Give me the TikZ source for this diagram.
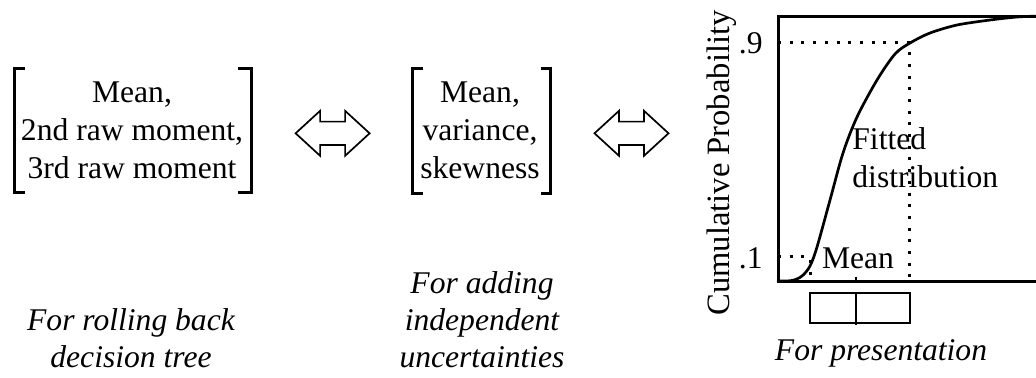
\documentclass[tikz,border=0pt]{standalone}
\usepackage{fontspec}
\setmainfont{Liberation Serif}
\tikzset{
  pics/dblarrow/.style={code={
    \draw[line width=0.85pt, line join=miter]
      (-37,0) -- (-12.5,-22.5) -- (-12.5,-11.7) -- (12.5,-11.7) -- (12.5,-22.5)
      -- (37,0) -- (12.5,22.5) -- (12.5,11.7) -- (-12.5,11.7) -- (-12.5,22.5) -- cycle;
  }}
}
\begin{document}
\begin{tikzpicture}[x=0.5pt,y=-0.5pt,
  lbl/.style={font=\fontsize{15.8}{19}\selectfont, inner sep=0pt},
  note/.style={font=\fontsize{15.8}{18.5}\selectfont\itshape, inner sep=0pt, align=center},
  bracket/.style={line width=1.5pt},
  frame/.style={line width=1.5pt},
  guide/.style={line width=1.5pt, dash pattern=on 1.5pt off 4.35pt},
  curve/.style={line width=1.35pt, line join=round, line cap=round},
  boxplot/.style={line width=1pt}
]
\path[use as bounding box] (0,0) rectangle (1036,377);
\clip (0,0) rectangle (1036,377);

% raw moments (node base sits on the last line)
\node[lbl, align=center, anchor=base] (raw) at (132,178)
  {Mean,\\2nd raw moment,\\3rd raw moment};
\draw[bracket] (25,68) -- (14,68) -- (14,192) -- (25,192);
\draw[bracket] (238,68) -- (251,68) -- (251,192) -- (238,192);

% central moments
\node[lbl, align=center, anchor=base] (central) at (480,178)
  {Mean,\\variance,\\skewness};
\draw[bracket] (423,68) -- (412.7,68) -- (412.7,193) -- (423,193);
\draw[bracket] (540.5,68) -- (550.7,68) -- (550.7,193) -- (540.5,193);

% conversion arrows
\pic at (332.6,133.3) {dblarrow};
\pic at (631.5,133.3) {dblarrow};

% cumulative distribution plot
\draw[frame] (1040,16) -- (778,16) -- (778,281) -- (1040,281);
\draw[guide] (778,42.7) -- (909,42.7) -- (909,281);
\draw[guide] (778,256.7) -- (810,256.7) -- (810,281);
\draw[curve] plot[smooth, tension=0.5] coordinates {
  (778,281) (792,280.5) (802,276) (810,266) (817,247) (830,200) (843,153)
  (857,117) (877,80) (895,54) (910,43) (930,33) (957,25) (990,20) (1017,17) (1040,16)};
\node[lbl, anchor=base east] (p9) at (763,53) {.9};
\node[lbl, anchor=base east] (p1) at (763,268) {.1};
\node[lbl, font=\fontsize{16.3}{19}\selectfont, rotate=90, anchor=base] (ylab) at (729,163) {Cumulative Probability};
\node[lbl, anchor=base] (meanlab) at (858,268) {Mean};
\node[lbl, align=left, anchor=base west] (fit) at (852,187) {Fitted\\distribution};
\draw[boxplot] (856,276.5) -- (856,281);
\draw[boxplot] (810,293.3) rectangle (910,322.7);
\draw[boxplot] (856,293.3) -- (856,325);

% purposes
\node[note, anchor=base] (use1) at (131,367) {For rolling back\\decision tree};
\node[note, anchor=base] (use2) at (482,367) {For adding\\independent\\uncertainties};
\node[note, anchor=base] (use3) at (881,360) {For presentation};
\end{tikzpicture}
\end{document}
